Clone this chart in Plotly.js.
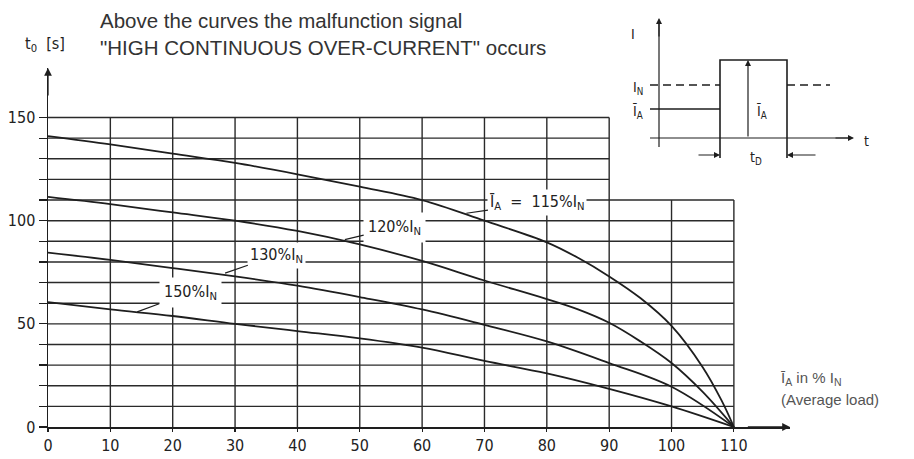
<!DOCTYPE html>
<html>
<head>
<meta charset="utf-8">
<script src="https://cdn.plot.ly/plotly-3.0.1.min.js"></script>
<style>html,body{margin:0;padding:0;background:#fff;}#chart{width:914px;height:459px;}</style>
</head>
<body>
<div id="chart"></div>
<script>
// ---- Data ----
const xTickVals = [0,10,20,30,40,50,60,70,80,90,100,110];
const yTickVals = [0,10,20,30,40,50,60,70,80,90,100,110,120,130,140,150];
const yTickLabels = ["0","","","","","50","","","","","100","","","","","150"];

const curve115X = [0,10,20,30,40,50,60,70,80,85,90,95,100,105,108,110];
const curve115Y = [141,137,132.5,128,122.5,116.5,110,100,89.5,82,73,62.5,49,29,13,0];
const curve120X = [0,10,20,30,40,50,60,70,80,85,90,95,100,105,110];
const curve120Y = [111.5,108,104,100,95,88.5,80.5,71,62,57,50.5,41.5,31,17,0];
const curve130X = [0,10,20,30,40,50,60,70,80,90,100,110];
const curve130Y = [84.5,81,77,73,68.5,63,57,49.5,41.5,31,19.5,0];
const curve150X = [0,10,20,30,40,50,60,70,80,90,100,110];
const curve150Y = [60.5,57,53.8,50,46.5,43,38.5,32,26,18.5,10,0];

const curveLabels = ["Ī<sub>A</sub>  =  115%I<sub>N</sub>", "120%I<sub>N</sub>", "130%I<sub>N</sub>", "150%I<sub>N</sub>"];
// label anchor (text centre) and leader tip on curve, in data units
const labelTextX = [78.5, 55.6, 36.7, 22.8];
const labelTextY = [108.7, 96.5, 83.2, 65.3];
const labelTipX  = [67.1, 47.6, 28.4, 14.3];
const labelTipY  = [103.6, 90.8, 74.6, 55.8];

// grid extents: full-height columns up to 90, lower block 90..110 up to 110
const gridFullTop = 150, gridRightTop = 110, gridSplitX = 90, gridRightX = 110;

// ---- Inset schematic (in schematic units) ----
const insetLevelX = [-0.9, 6.1];
const insetLevelY = [2.9, 2.9];
const insetPulseX = [6.1, 6.1, 12.8, 12.8];
const insetPulseY = [-2, 7.8, 7.8, -2];
const insetNomX = [-0.9, 6.1, null, 12.8, 17.1];
const insetNomY = [5.3, 5.3, null, 5.3, 5.3];
const insetAxisVX = [0, 0];
const insetAxisVY = [-0.9, 11.5];
const insetAxisHX = [-0.9, 19.0];
const insetAxisHY = [0, 0];

const W = 914, H = 459;
const plotL = 48, plotR = 790, plotT = 68, plotB = 427;
const ink = '#1e1e1e';
const techFont = {family: 'DejaVu Sans Condensed, Liberation Sans Narrow, sans-serif', size: 16, color: '#222'};

const traces = [];
const cx = [curve115X, curve120X, curve130X, curve150X];
const cy = [curve115Y, curve120Y, curve130Y, curve150Y];
for (let i = 0; i < 4; i++) {
  traces.push({x: cx[i], y: cy[i], type: 'scatter', mode: 'lines',
    line: {color: ink, width: 1.8, shape: 'spline', smoothing: 1.0},
    hoverinfo: 'skip', xaxis: 'x', yaxis: 'y'});
}
traces.push({x: insetLevelX, y: insetLevelY, mode: 'lines', line: {color: ink, width: 1.6}, xaxis: 'x2', yaxis: 'y2', hoverinfo: 'skip'});
traces.push({x: insetPulseX, y: insetPulseY, mode: 'lines', line: {color: ink, width: 1.6}, xaxis: 'x2', yaxis: 'y2', hoverinfo: 'skip'});
traces.push({x: insetNomX, y: insetNomY, mode: 'lines', line: {color: ink, width: 1.4, dash: '8px,5px'}, xaxis: 'x2', yaxis: 'y2', hoverinfo: 'skip'});
traces.push({x: insetAxisVX, y: insetAxisVY, mode: 'lines', line: {color: ink, width: 1.2}, xaxis: 'x2', yaxis: 'y2', hoverinfo: 'skip'});
traces.push({x: insetAxisHX, y: insetAxisHY, mode: 'lines', line: {color: ink, width: 1.2}, xaxis: 'x2', yaxis: 'y2', hoverinfo: 'skip'});

// grid shapes
const shapes = [];
const gridLine = {color: '#2a2a2a', width: 1.4};
yTickVals.forEach(v => {
  if (v === 0) return;
  const x1 = v <= gridRightTop ? gridRightX : gridSplitX;
  shapes.push({type: 'line', xref: 'x', yref: 'y', x0: 0, x1: x1, y0: v, y1: v, line: gridLine, layer: 'below'});
});
xTickVals.forEach(v => {
  if (v === 0) return;
  const y1 = v <= gridSplitX ? gridFullTop : gridRightTop;
  shapes.push({type: 'line', xref: 'x', yref: 'y', x0: v, x1: v, y0: 0, y1: y1, line: gridLine, layer: 'below'});
});

const annotations = [];
// curve labels with white boxes breaking the grid
const pads = [2, 4, 2, 4];
for (let i = 0; i < 4; i++) {
  annotations.push({xref: 'x', yref: 'y', x: labelTipX[i], y: labelTipY[i],
    axref: 'x', ayref: 'y', ax: labelTextX[i], ay: labelTextY[i],
    text: curveLabels[i], showarrow: true, arrowhead: 0, arrowwidth: 1.2, arrowcolor: ink,
    bgcolor: '#fff', borderpad: pads[i], font: techFont});
}
// main axis arrows
annotations.push({xref: 'x', yref: 'y', x: 0, y: 174, axref: 'x', ayref: 'y', ax: 0, ay: 160, text: '', showarrow: true, arrowhead: 2, arrowsize: 1.2, arrowwidth: 1.3, arrowcolor: ink});
annotations.push({xref: 'x', yref: 'y', x: 119, y: 0, axref: 'x', ayref: 'y', ax: 112, ay: 0, text: '', showarrow: true, arrowhead: 2, arrowsize: 1.2, arrowwidth: 1.3, arrowcolor: ink});
// titles / texts
const titleFont = {family: 'Liberation Sans Narrow, Arial Narrow, Liberation Sans, sans-serif', size: 20.5, color: '#333'};
annotations.push({xref: 'paper', yref: 'paper', x: 98 / W, y: 1 - 20 / H, xanchor: 'left', yanchor: 'middle', showarrow: false,
  text: 'Above the curves the malfunction signal', font: titleFont});
annotations.push({xref: 'paper', yref: 'paper', x: 98 / W, y: 1 - 48 / H, xanchor: 'left', yanchor: 'middle', showarrow: false,
  text: '"HIGH CONTINUOUS OVER-CURRENT" occurs', font: titleFont});
annotations.push({xref: 'paper', yref: 'paper', x: 45 / W, y: 1 - 45 / H, xanchor: 'center', yanchor: 'middle', showarrow: false,
  text: 't<sub>0</sub>  [s]', font: techFont});
annotations.push({xref: 'paper', yref: 'paper', x: 779 / W, y: 1 - 378 / H, xanchor: 'left', yanchor: 'middle', showarrow: false,
  text: 'Ī<sub>A</sub> in % I<sub>N</sub>', font: {family: 'Liberation Sans, Arial, sans-serif', size: 15, color: '#555'}});
annotations.push({xref: 'paper', yref: 'paper', x: 779 / W, y: 1 - 399 / H, xanchor: 'left', yanchor: 'middle', showarrow: false,
  text: '(Average load)', font: {family: 'Liberation Sans, Arial, sans-serif', size: 15, color: '#555'}});
// inset arrows and labels
const insetFont = {family: 'DejaVu Sans Condensed, sans-serif', size: 14, color: '#222'};
annotations.push({xref: 'x2', yref: 'y2', x: 0, y: 12, axref: 'x2', ayref: 'y2', ax: 0, ay: 10, text: '', showarrow: true, arrowhead: 2, arrowsize: 1, arrowwidth: 1.2, arrowcolor: ink});
annotations.push({xref: 'x2', yref: 'y2', x: 19.5, y: 0, axref: 'x2', ayref: 'y2', ax: 17.5, ay: 0, text: '', showarrow: true, arrowhead: 2, arrowsize: 1, arrowwidth: 1.2, arrowcolor: ink});
annotations.push({xref: 'x2', yref: 'y2', x: 8.9, y: 7.8, axref: 'x2', ayref: 'y2', ax: 8.9, ay: 0, text: '', showarrow: true, arrowhead: 2, arrowsize: 1, arrowwidth: 1.2, arrowcolor: ink});
annotations.push({xref: 'x2', yref: 'y2', x: 6.1, y: -1.7, axref: 'x2', ayref: 'y2', ax: 3.8, ay: -1.7, text: '', showarrow: true, arrowhead: 2, arrowsize: 1, arrowwidth: 1.2, arrowcolor: ink});
annotations.push({xref: 'x2', yref: 'y2', x: 12.8, y: -1.7, axref: 'x2', ayref: 'y2', ax: 15.8, ay: -1.7, text: '', showarrow: true, arrowhead: 2, arrowsize: 1, arrowwidth: 1.2, arrowcolor: ink});
const insetLabels = [
  {x: -2.6, y: 10.4, t: 'I'}, {x: 20.7, y: -0.3, t: 't'},
  {x: -2.1, y: 5.0, t: 'I<sub>N</sub>'}, {x: -2.1, y: 2.6, t: 'Ī<sub>A</sub>'},
  {x: 10.3, y: 2.6, t: 'Ī<sub>A</sub>'}, {x: 9.7, y: -2.0, t: 't<sub>D</sub>'}
];
insetLabels.forEach(l => annotations.push({xref: 'x2', yref: 'y2', x: l.x, y: l.y, text: l.t, showarrow: false, font: insetFont}));

const layout = {
  width: W, height: H,
  margin: {l: 0, r: 0, t: 0, b: 0},
  paper_bgcolor: '#fff', plot_bgcolor: 'rgba(0,0,0,0)',
  showlegend: false,
  xaxis: {domain: [plotL / W, plotR / W], range: [0, 119], anchor: 'y',
    showgrid: false, zeroline: false, showline: true, linecolor: ink, linewidth: 1.5,
    tickmode: 'array', tickvals: xTickVals, ticks: 'outside', ticklen: 3, tickcolor: ink, tickwidth: 1.2,
    tickfont: techFont, fixedrange: true},
  yaxis: {domain: [(H - plotB) / H, (H - plotT) / H], range: [0, 174], anchor: 'x',
    showgrid: false, zeroline: false, showline: true, linecolor: ink, linewidth: 1.5,
    tickmode: 'array', tickvals: yTickVals, ticktext: yTickLabels, ticks: 'outside', ticklen: 8, tickcolor: ink, tickwidth: 1.3,
    tickfont: techFont, fixedrange: true},
  xaxis2: {domain: [620 / W, 880 / W], range: [-3.9, 22.1], anchor: 'y2', visible: false, fixedrange: true},
  yaxis2: {domain: [(H - 170) / H, (H - 10) / H], range: [-3.2, 12.8], anchor: 'x2', visible: false, fixedrange: true},
  shapes: shapes,
  annotations: annotations
};

Plotly.newPlot('chart', traces, layout, {staticPlot: true, displayModeBar: false});
</script>
</body>
</html>
